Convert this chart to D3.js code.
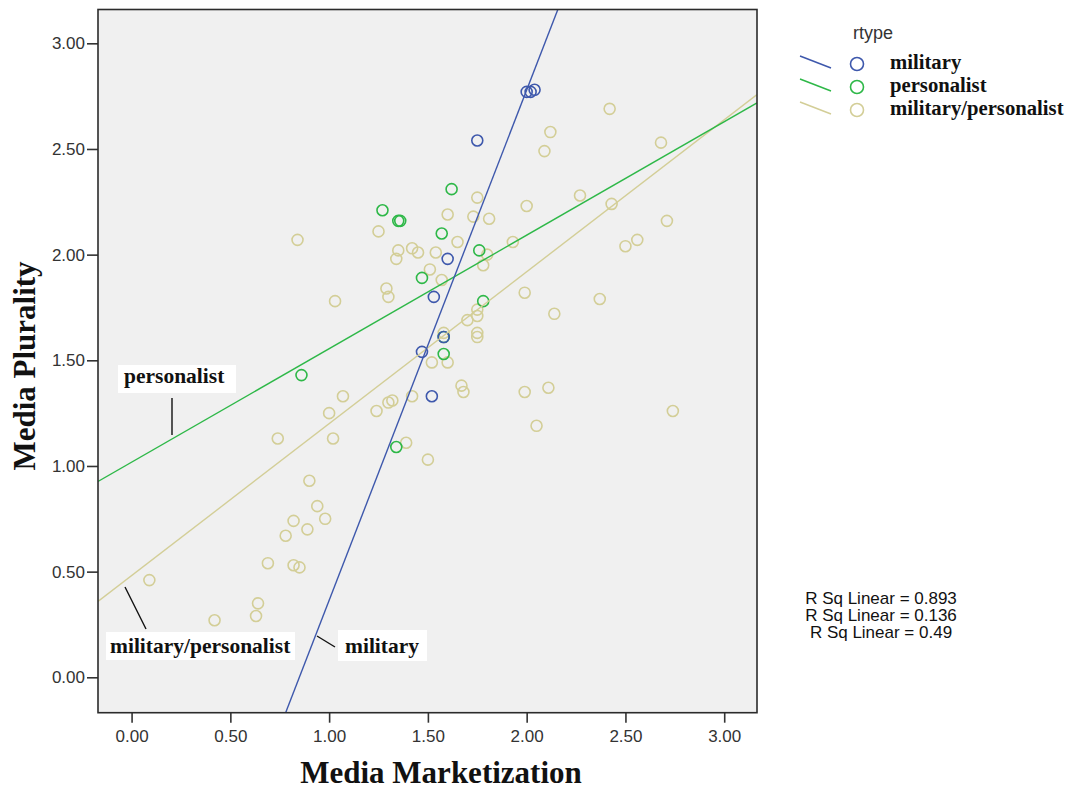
<!DOCTYPE html>
<html>
<head>
<meta charset="utf-8">
<script src="https://cdn.jsdelivr.net/npm/d3@7"></script>
<style>
  html, body { margin: 0; padding: 0; background: #ffffff; }
  svg { display: block; }
</style>
</head>
<body>
<svg id="chart" width="1067" height="794"></svg>
<script>
// Regime types (legend order)
const regimeTypes = ["military", "personalist", "military/personalist"];
const regimeColors = ["#3E58AC", "#2EB848", "#D3CE97"];

// Media Marketization (x) and Media Plurality (y) per regime type
const militaryX = [2.00, 2.02, 2.04, 1.75, 1.60, 1.53, 1.47, 1.52, 1.58];
const militaryY = [2.77, 2.77, 2.78, 2.54, 1.98, 1.80, 1.54, 1.33, 1.61];

const personalistX = [0.86, 1.27, 1.35, 1.36, 1.62, 1.57, 1.76, 1.47, 1.78, 1.58, 1.58, 1.34];
const personalistY = [1.43, 2.21, 2.16, 2.16, 2.31, 2.10, 2.02, 1.89, 1.78, 1.61, 1.53, 1.09];

const mixedX = [0.84, 2.42, 2.12, 2.09, 2.68, 1.75, 2.00, 2.27, 2.43, 1.60,
                1.73, 1.81, 1.25, 1.65, 1.93, 2.71, 2.50, 2.56, 1.35, 1.34,
                1.42, 1.45, 1.54, 1.51, 1.80, 1.78, 1.57, 1.29, 1.30, 1.99,
                2.37, 2.14, 1.75, 1.75, 1.70, 1.75, 1.75, 1.58, 1.52, 1.60,
                1.67, 1.68, 1.99, 2.11, 2.74, 2.05, 1.42, 1.30, 1.32, 1.24,
                1.39, 1.50, 1.03, 1.07, 1.00, 0.74, 1.02, 0.90, 0.94, 0.98,
                0.82, 0.89, 0.78, 0.69, 0.82, 0.85, 0.09, 0.64, 0.63, 0.42];
const mixedY = [2.07, 2.69, 2.58, 2.49, 2.53, 2.27, 2.23, 2.28, 2.24, 2.19,
                2.18, 2.17, 2.11, 2.06, 2.06, 2.16, 2.04, 2.07, 2.02, 1.98,
                2.03, 2.01, 2.01, 1.93, 2.00, 1.95, 1.88, 1.84, 1.80, 1.82,
                1.79, 1.72, 1.74, 1.71, 1.69, 1.63, 1.61, 1.63, 1.49, 1.49,
                1.38, 1.35, 1.35, 1.37, 1.26, 1.19, 1.33, 1.30, 1.31, 1.26,
                1.11, 1.03, 1.78, 1.33, 1.25, 1.13, 1.13, 0.93, 0.81, 0.75,
                0.74, 0.70, 0.67, 0.54, 0.53, 0.52, 0.46, 0.35, 0.29, 0.27];

// Linear fit lines per regime type (intercept, slope) and their R squared
const fitIntercepts = [-2.051, 1.018, 0.481];
const fitSlopes = [2.415, 0.537, 0.719];
const rSquared = ["0.893", "0.136", "0.49"];

// Axis ticks
const xTicks = [0.00, 0.50, 1.00, 1.50, 2.00, 2.50, 3.00];
const yTicks = [0.00, 0.50, 1.00, 1.50, 2.00, 2.50, 3.00];

// ---- layout ----
const plot = { left: 98, top: 9.5, right: 757, bottom: 712.7 };
const sansFont = "'Liberation Sans', Arial, sans-serif";
const serifFont = "'Liberation Serif', 'Times New Roman', serif";

const svg = d3.select("#chart");

const x = d3.scaleLinear().domain([-0.17, 3.166]).range([plot.left, plot.right]);
const y = d3.scaleLinear().domain([-0.1675, 3.16]).range([plot.bottom, plot.top]);

const groups = [
  { name: regimeTypes[0], color: regimeColors[0], xs: militaryX, ys: militaryY },
  { name: regimeTypes[1], color: regimeColors[1], xs: personalistX, ys: personalistY },
  { name: regimeTypes[2], color: regimeColors[2], xs: mixedX, ys: mixedY }
];

// plot background
svg.append("rect")
  .attr("x", plot.left).attr("y", plot.top)
  .attr("width", plot.right - plot.left).attr("height", plot.bottom - plot.top)
  .attr("fill", "#F0F0F0");

svg.append("clipPath").attr("id", "plotClip")
  .append("rect")
  .attr("x", plot.left).attr("y", plot.top)
  .attr("width", plot.right - plot.left).attr("height", plot.bottom - plot.top);

// points: mixed first, then personalist, then military on top
const pointLayer = svg.append("g").attr("clip-path", "url(#plotClip)");
[groups[2], groups[1], groups[0]].forEach(g => {
  const pts = g.xs.map((v, i) => [v, g.ys[i]]);
  pointLayer.append("g").selectAll("circle")
    .data(pts).join("circle")
    .attr("cx", d => x(d[0]))
    .attr("cy", d => y(d[1]))
    .attr("r", 5.5)
    .attr("fill", "none")
    .attr("stroke", g.color)
    .attr("stroke-width", 1.6);
});

// fit lines
const lineLayer = svg.append("g").attr("clip-path", "url(#plotClip)");
const xDom = x.domain();
[2, 1, 0].forEach(i => {
  const pts = xDom.map(v => [v, fitIntercepts[i] + fitSlopes[i] * v]);
  lineLayer.append("path")
    .attr("d", d3.line().x(d => x(d[0])).y(d => y(d[1]))(pts))
    .attr("fill", "none")
    .attr("stroke", regimeColors[i])
    .attr("stroke-width", 1.4);
});

// axes
const yAxis = svg.append("g")
  .attr("transform", `translate(${plot.left},0)`)
  .call(d3.axisLeft(y).tickValues(yTicks).tickFormat(d3.format(".2f")).tickSize(11).tickPadding(2));
const xAxis = svg.append("g")
  .attr("transform", `translate(0,${plot.bottom})`)
  .call(d3.axisBottom(x).tickValues(xTicks).tickFormat(d3.format(".2f")).tickSize(10).tickPadding(7));
[xAxis, yAxis].forEach(a => {
  a.select(".domain").remove();
  a.selectAll(".tick line").attr("stroke", "#333").attr("stroke-width", 1.6);
  a.selectAll(".tick text").attr("fill", "#333")
    .style("font-family", sansFont).style("font-size", "17px");
});

// frame
svg.append("rect")
  .attr("x", plot.left).attr("y", plot.top)
  .attr("width", plot.right - plot.left).attr("height", plot.bottom - plot.top)
  .attr("fill", "none").attr("stroke", "#2b2b2b").attr("stroke-width", 1.6);

// axis titles
svg.append("text")
  .attr("x", 441).attr("y", 783)
  .attr("text-anchor", "middle")
  .style("font-family", serifFont).style("font-weight", "bold").style("font-size", "31px")
  .attr("fill", "#111")
  .text("Media Marketization");
svg.append("text")
  .attr("transform", "translate(35,366) rotate(-90)")
  .attr("text-anchor", "middle")
  .style("font-family", serifFont).style("font-weight", "bold").style("font-size", "31px")
  .attr("fill", "#111")
  .text("Media Plurality");

// fit line labels with leaders
const lineLabels = [
  { text: "personalist", box: [118, 365, 118, 28], tx: 124, ty: 383, leader: [172, 398, 172, 435] },
  { text: "military/personalist", box: [106, 632, 189, 28], tx: 110, ty: 653, leader: [125, 587, 146, 629] },
  { text: "military", box: [338, 630, 89, 31], tx: 345, ty: 653, leader: [317, 636, 335, 647] }
];
lineLabels.forEach(l => {
  svg.append("line")
    .attr("x1", l.leader[0]).attr("y1", l.leader[1])
    .attr("x2", l.leader[2]).attr("y2", l.leader[3])
    .attr("stroke", "#111").attr("stroke-width", 1.4);
  svg.append("rect")
    .attr("x", l.box[0]).attr("y", l.box[1])
    .attr("width", l.box[2]).attr("height", l.box[3])
    .attr("fill", "#ffffff");
  svg.append("text")
    .attr("x", l.tx).attr("y", l.ty)
    .style("font-family", serifFont).style("font-weight", "bold").style("font-size", "21.5px")
    .attr("fill", "#111")
    .text(l.text);
});

// legend
const legend = svg.append("g");
legend.append("text")
  .attr("x", 853).attr("y", 39)
  .style("font-family", sansFont).style("font-size", "18px")
  .attr("fill", "#333")
  .text("rtype");
regimeTypes.forEach((name, i) => {
  const cy = 64 + i * 23;
  legend.append("line")
    .attr("x1", 800).attr("y1", cy - 8)
    .attr("x2", 831).attr("y2", cy + 4)
    .attr("stroke", regimeColors[i]).attr("stroke-width", 1.5);
  legend.append("circle")
    .attr("cx", 857).attr("cy", cy).attr("r", 6.5)
    .attr("fill", "none").attr("stroke", regimeColors[i]).attr("stroke-width", 1.6);
  legend.append("text")
    .attr("x", 890).attr("y", cy + 5)
    .style("font-family", serifFont).style("font-weight", "bold").style("font-size", "20.7px")
    .attr("fill", "#111")
    .text(name);
});

// R squared notes
rSquared.forEach((r, i) => {
  svg.append("text")
    .attr("x", 881).attr("y", 604 + i * 17)
    .attr("text-anchor", "middle")
    .style("font-family", sansFont).style("font-size", "17px")
    .attr("fill", "#111")
    .text(`R Sq Linear = ${r}`);
});
</script>
</body>
</html>
